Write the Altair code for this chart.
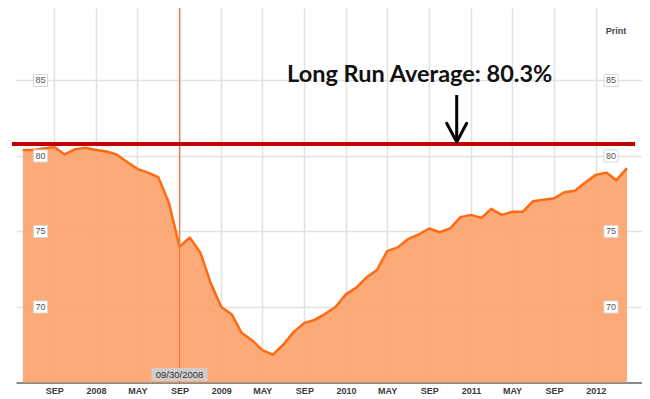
import altair as alt
import pandas as pd

# ---- data ----
months_2007 = ["2007-06", "2007-07", "2007-08", "2007-09", "2007-10", "2007-11", "2007-12"]
months_2008 = ["2008-%02d" % m for m in range(1, 13)]
months_2009 = ["2009-%02d" % m for m in range(1, 13)]
months_2010 = ["2010-%02d" % m for m in range(1, 13)]
months_2011 = ["2011-%02d" % m for m in range(1, 13)]
months_2012 = ["2012-01", "2012-02", "2012-03", "2012-04"]

vals_2007 = [80.4, 80.4, 80.5, 80.6, 80.1, 80.45, 80.55]
vals_2008 = [80.4, 80.3, 80.1, 79.6, 79.15, 78.9, 78.6, 76.9, 74.0, 74.6, 73.6, 71.6]
vals_2009 = [70.0, 69.5, 68.3, 67.8, 67.15, 66.85, 67.5, 68.35, 68.95, 69.15, 69.55, 70.0]
vals_2010 = [70.85, 71.3, 71.95, 72.45, 73.7, 73.95, 74.5, 74.8, 75.2, 74.95, 75.2, 75.95]
vals_2011 = [76.1, 75.9, 76.5, 76.1, 76.3, 76.3, 77.0, 77.1, 77.2, 77.6, 77.7, 78.25]
vals_2012 = [78.75, 78.9, 78.4, 79.2]

months = months_2007 + months_2008 + months_2009 + months_2010 + months_2011 + months_2012
values = vals_2007 + vals_2008 + vals_2009 + vals_2010 + vals_2011 + vals_2012

x_ticks = [(2007, 9), (2008, 1), (2008, 5), (2008, 9), (2009, 1), (2009, 5), (2009, 9),
           (2010, 1), (2010, 5), (2010, 9), (2011, 1), (2011, 5), (2011, 9), (2012, 1)]
y_ticks = [70, 75, 80, 85]

avg_line_value = [80.8]          # where the red annotation line is drawn
avg_text = "Long Run Average: 80.3%"
event_date = ["2008-09-01"]
event_label = "09/30/2008"

df = pd.DataFrame({"date": [m + "-01" for m in months], "value": values})

W, H = 626, 374.5
x_scale = alt.Scale(type="utc", domain=["2007-05-12", "2012-05-15"])
y_scale = alt.Scale(domain=[65, 89.8], nice=False, zero=False)

x_axis = alt.Axis(
    values=[alt.DateTime(year=y, month=m, date=1, utc=True) for y, m in x_ticks],
    labelExpr="utcFormat(datum.value, '%m') == '01' ? utcFormat(datum.value, '%Y') : upper(utcFormat(datum.value, '%b'))",
    title=None, grid=True, gridColor="#e2e2e2", gridWidth=1.5,
    ticks=False, domain=True, domainColor="#8a8a8a", domainWidth=2,
    labelFont="Liberation Sans", labelFontWeight="bold", labelFontSize=9,
    labelColor="#3a3a3a", labelPadding=4, labelAngle=0,
)
y_axis = alt.Axis(values=y_ticks, grid=True, gridColor="#e2e2e2", gridWidth=1.5,
                  labels=False, ticks=False, domain=False, title=None)

base = alt.Chart(df)
area = base.mark_area(color="#FCA169", opacity=0.9).encode(
    x=alt.X("date:T", scale=x_scale, axis=x_axis),
    y=alt.Y("value:Q", scale=y_scale, axis=y_axis),
    y2=alt.datum(65),
)
line = base.mark_line(color="#FF6A13", strokeWidth=2.5, strokeJoin="round").encode(
    x=alt.X("date:T", scale=x_scale), y=alt.Y("value:Q", scale=y_scale)
)

ev = pd.DataFrame({"date": event_date, "label": [event_label]})
ev_rule = alt.Chart(ev).mark_rule(color="#EE7A45", strokeWidth=1.3).encode(
    x=alt.X("date:T", scale=x_scale), y=alt.value(0), y2=alt.value(H)
)
ev_box = alt.Chart(ev).mark_point(
    shape="M-1,-0.232L1,-0.232L1,0.232L-1,0.232Z", size=3136, filled=True,
    color="#cfcfcf", opacity=0.95, strokeWidth=0
).encode(x=alt.X("date:T", scale=x_scale), y=alt.value(H - 8))
ev_text = alt.Chart(ev).mark_text(
    font="Liberation Sans", fontSize=9.5, color="#333333", baseline="middle"
).encode(x=alt.X("date:T", scale=x_scale), y=alt.value(H - 8), text="label:N")

avg_df = pd.DataFrame({"y": avg_line_value})
avg_rule = alt.Chart(avg_df).mark_rule(color="#C00000", strokeWidth=4).encode(
    y=alt.Y("y:Q", scale=y_scale), x=alt.value(-4), x2=alt.value(619)
)

ylab = pd.DataFrame({"v": y_ticks})
ylab_layers = []
for xp in (24.5, 595):
    ylab_layers.append(alt.Chart(ylab).mark_point(
        shape="M-1,-0.86L1,-0.86L1,0.86L-1,0.86Z", size=196, filled=False,
        fill="white", fillOpacity=1, stroke="#d8d8d8", strokeWidth=1
    ).encode(x=alt.value(xp), y=alt.Y("v:Q", scale=y_scale)))
    ylab_layers.append(alt.Chart(ylab).mark_text(
        font="Liberation Sans", fontSize=9, color="#555555", baseline="middle"
    ).encode(x=alt.value(xp), y=alt.Y("v:Q", scale=y_scale), text="v:Q"))

note = pd.DataFrame({"t": [avg_text]})
note_text = alt.Chart(note).mark_text(
    font="Lato", fontWeight="bold", fontSize=23.5, color="#111111",
    align="center", baseline="alphabetic"
).encode(x=alt.value(403.7), y=alt.value(74), text="t:N")

arrow_shaft = alt.Chart(note).mark_rule(color="black", strokeWidth=3).encode(
    x=alt.value(440.7), y=alt.value(87), y2=alt.value(133))
arrow_l = alt.Chart(note).mark_rule(color="black", strokeWidth=3, strokeCap="round").encode(
    x=alt.value(430.7), y=alt.value(115.3), x2=alt.value(440.7), y2=alt.value(134))
arrow_r = alt.Chart(note).mark_rule(color="black", strokeWidth=3, strokeCap="round").encode(
    x=alt.value(450.7), y=alt.value(115.3), x2=alt.value(440.7), y2=alt.value(134))

pr = pd.DataFrame({"t": ["Print"]})
print_text = alt.Chart(pr).mark_text(
    font="Liberation Sans", fontWeight="bold", fontSize=9, color="#444444"
).encode(x=alt.value(600), y=alt.value(23), text="t:N")

chart = alt.layer(
    area, line, ev_rule, avg_rule, ev_box, ev_text, *ylab_layers,
    note_text, arrow_shaft, arrow_l, arrow_r, print_text
).properties(
    width=W, height=H,
    autosize=alt.AutoSizeParams(type="none"),
    padding={"left": 8, "top": 0, "right": 0, "bottom": 16},
).configure_view(stroke=None)

chart.save("out.html", embed_options={"renderer": "svg", "actions": False})
